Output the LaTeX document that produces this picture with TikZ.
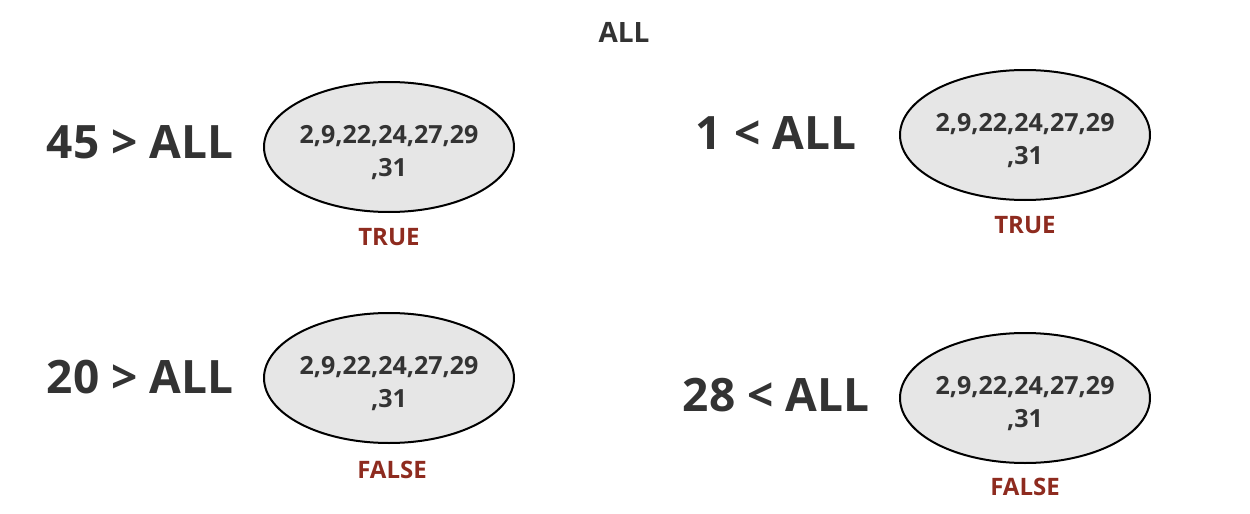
\documentclass[tikz,border=0pt]{standalone}
\usepackage{fontspec}
\setmainfont{Open Sans}
\usetikzlibrary{shapes.geometric}
\definecolor{txt}{HTML}{333333}
\definecolor{res}{HTML}{8E2B1F}
\definecolor{blob}{HTML}{E6E6E6}
\begin{document}
\begin{tikzpicture}[x=0.5pt,y=-0.5pt,
  setbox/.style={ellipse,draw=black,line width=1pt,fill=blob,minimum width=125pt,minimum height=65pt,inner sep=0pt},
  settext/.style={font=\fontsize{12.5}{16.5}\selectfont\bfseries,text=txt,align=center,inner sep=0pt},
  expr/.style={font=\fontsize{23}{25}\selectfont\bfseries,text=txt},
  result/.style={font=\fontsize{12}{14}\selectfont\bfseries,text=res},
  title/.style={font=\fontsize{14}{16}\selectfont\bfseries,text=txt}]
\useasboundingbox (0,0) rectangle (1250,514);
\node[title] (t) at (624,32) {ALL};
\node[expr] (e1) at (140,142) {45 > ALL};
\node[expr] (e2) at (776,133) {1 < ALL};
\node[expr] (e3) at (140,377) {20 > ALL};
\node[expr] (e4) at (776,395) {28 < ALL};
\node[setbox] (s1) at (389,147) {};
\node[setbox] (s2) at (1025,135) {};
\node[setbox] (s3) at (389,378) {};
\node[setbox] (s4) at (1025,398) {};
\node[settext] (l1) at ([yshift=-3pt]s1.center) {2,9,22,24,27,29\\,31};
\node[settext] (l2) at ([yshift=-3pt]s2.center) {2,9,22,24,27,29\\,31};
\node[settext] (l3) at ([yshift=-3pt]s3.center) {2,9,22,24,27,29\\,31};
\node[settext] (l4) at ([yshift=-3pt]s4.center) {2,9,22,24,27,29\\,31};
\node[result] (r1) at (389,237) {TRUE};
\node[result] (r2) at (1025,225) {TRUE};
\node[result] (r3) at (392,470) {FALSE};
\node[result] (r4) at (1025,487) {FALSE};
\end{tikzpicture}
\end{document}
